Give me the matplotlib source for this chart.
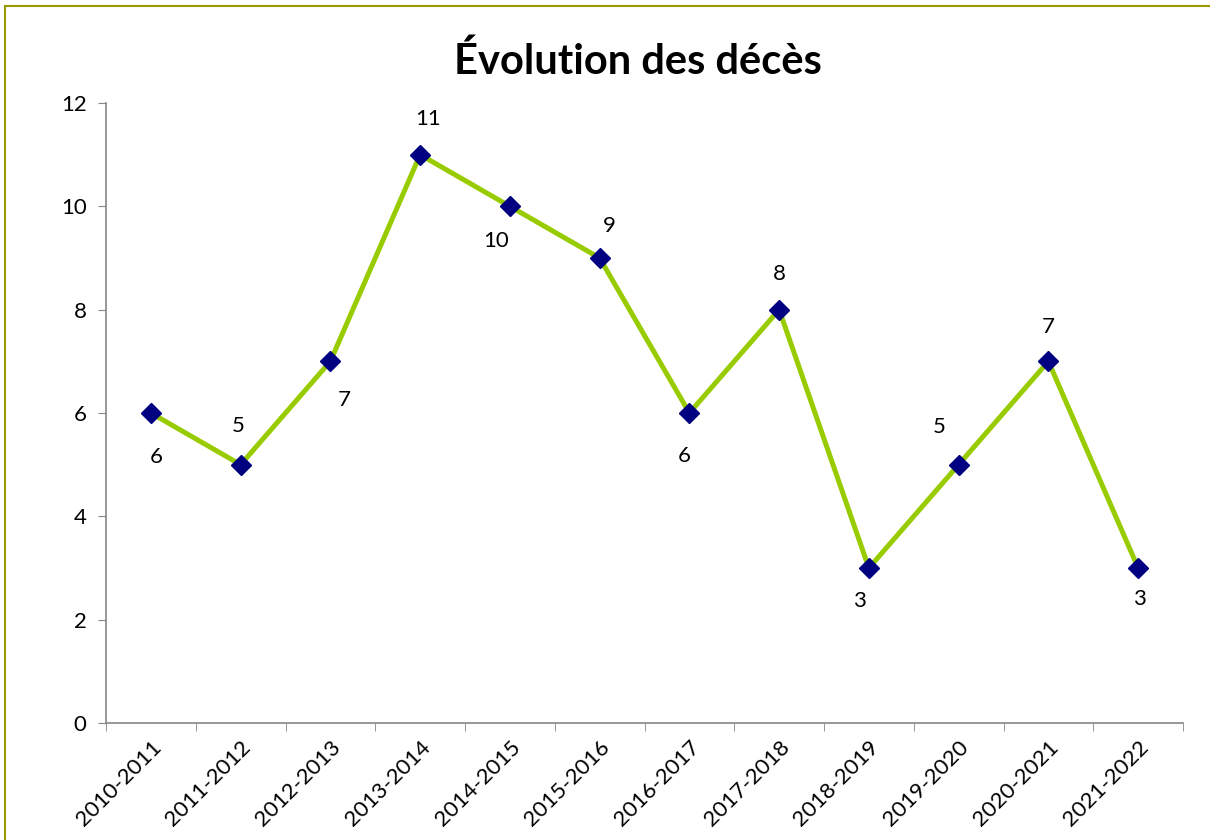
import matplotlib.pyplot as plt
from matplotlib.patches import Rectangle

plt.rcParams['font.family'] = ['Lato', 'DejaVu Sans']

# données
saisons = ['2010-2011', '2011-2012', '2012-2013', '2013-2014', '2014-2015', '2015-2016',
           '2016-2017', '2017-2018', '2018-2019', '2019-2020', '2020-2021', '2021-2022']
deces = [6, 5, 7, 11, 10, 9, 6, 8, 3, 5, 7, 3]

# décalage des étiquettes (en points)
offsets = [(4, -32), (-2, 28), (10, -28), (6, 26), (-10, -25), (7, 23),
           (-4, -31), (0, 26), (-7, -24), (-14, 27), (0, 25), (1, -22)]

fig = plt.figure(figsize=(12.1, 8.4), dpi=100)
ax = fig.add_axes([106 / 1210, 1 - 723 / 840, (1183 - 106) / 1210, (723 - 103) / 840])

x = list(range(len(saisons)))
ax.plot(x, deces, color='#99CC00', linewidth=3.6, marker='D', markersize=10,
        markerfacecolor='#000080', markeredgecolor='#000080', zorder=3)

for xi, yi, (dx, dy) in zip(x, deces, offsets):
    ax.annotate(str(yi), (xi, yi), xytext=(dx, dy), textcoords='offset points',
                ha='center', va='center', fontsize=16, color='black')

ax.set_xlim(-0.5, len(saisons) - 0.5)
ax.set_ylim(0, 12)
ax.set_yticks(range(0, 13, 2))
ax.tick_params(axis='y', labelsize=16, length=6, color='#868686', pad=8)
ax.set_xticks(x)
ax.set_xticklabels(saisons, rotation=45, ha='right', rotation_mode='anchor', fontsize=16)
ax.set_xticks([i - 0.5 for i in range(len(saisons) + 1)], minor=True)
ax.tick_params(axis='x', which='major', length=0, pad=10)
ax.tick_params(axis='x', which='minor', length=6, color='#868686')

for s in ['top', 'right']:
    ax.spines[s].set_visible(False)
for s in ['left', 'bottom']:
    ax.spines[s].set_color('#868686')
    ax.spines[s].set_linewidth(1.2)

fig.text(638 / 1210, 1 - 61 / 840, 'Évolution des décès', ha='center', va='center',
         fontsize=30, fontweight='bold')

# cadre du graphique
fig.patches.append(Rectangle((5 / 1210, -0.1), 1.2, 1 - 6 / 840 + 0.1,
                             transform=fig.transFigure, fill=False,
                             edgecolor='#999900', linewidth=1.5))

fig.savefig('out.png', dpi=100)
